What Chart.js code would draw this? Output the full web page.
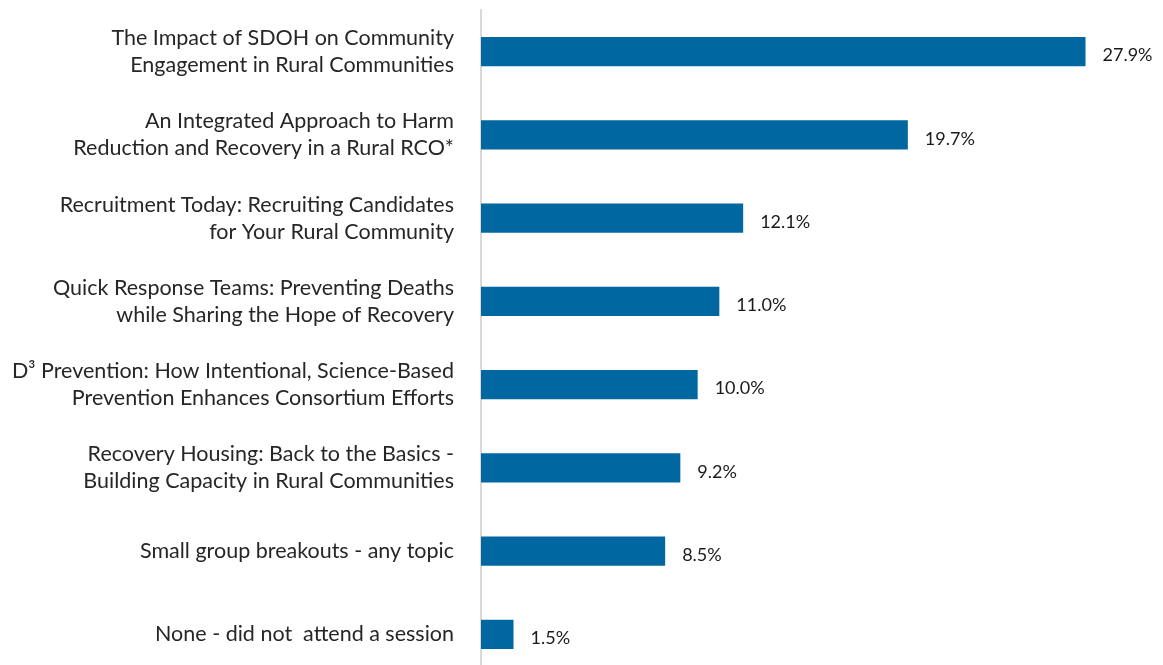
<!DOCTYPE html>
<html lang="en">
<head>
  <meta charset="UTF-8">
  <title>Session Attendance</title>
  <style>
    html, body {
      margin: 0;
      padding: 0;
      background: #ffffff;
      overflow: hidden;
    }
    .wrap {
      width: 1163px;
      height: 680px;
    }
  </style>
</head>
<body>
<div class="wrap">
  <canvas id="sessionChart" width="1163" height="680"></canvas>
</div>

<script src="https://cdn.jsdelivr.net/npm/chart.js"></script>
<script>
  // Session names (each one split over the lines it is shown on)
  const sessions = [
    ['The Impact of SDOH on Community', 'Engagement in Rural Communities'],
    ['An Integrated Approach to Harm', 'Reduction and Recovery in a Rural RCO*'],
    ['Recruitment Today: Recruiting Candidates', 'for Your Rural Community'],
    ['Quick Response Teams: Preventing Deaths', 'while Sharing the Hope of Recovery'],
    ['D³ Prevention: How Intentional, Science-Based', 'Prevention Enhances Consortium Efforts'],
    ['Recovery Housing: Back to the Basics -', 'Building Capacity in Rural Communities'],
    'Small group breakouts - any topic',
    'None - did not  attend a session'
  ];

  // Percent of respondents per session
  const percents = [27.9, 19.7, 12.1, 11.0, 10.0, 9.2, 8.5, 1.5];

  const barColor = '#0067a0';

  // Writes the percentage just to the right of each bar
  const valueLabels = {
    id: 'valueLabels',
    afterDatasetsDraw(chart) {
      const ctx = chart.ctx;
      const meta = chart.getDatasetMeta(0);
      ctx.save();
      ctx.font = '18px Lato, "Liberation Sans", sans-serif';
      ctx.fillStyle = '#1a1a1a';
      ctx.textAlign = 'left';
      ctx.textBaseline = 'middle';
      meta.data.forEach((bar, i) => {
        ctx.fillText(percents[i].toFixed(1) + '%', bar.x + 17, bar.y + 4);
      });
      ctx.restore();
    }
  };

  const ctx = document.getElementById('sessionChart').getContext('2d');

  new Chart(ctx, {
    type: 'bar',
    data: {
      labels: sessions,
      datasets: [{
        data: percents,
        backgroundColor: barColor,
        borderWidth: 0,
        barPercentage: 0.35,
        categoryPercentage: 1
      }]
    },
    options: {
      indexAxis: 'y',
      responsive: false,
      animation: false,
      layout: {
        padding: { top: 10, right: 32, bottom: 4, left: 0 }
      },
      plugins: {
        legend: { display: false },
        tooltip: { enabled: false }
      },
      scales: {
        x: {
          display: false,
          min: 0,
          max: 30
        },
        y: {
          // fixed label column; no extra room above/below for the labels
          afterFit(scale) {
            scale.width = 481;
            scale.paddingTop = 0;
            scale.paddingBottom = 0;
          },
          grid: {
            display: false,
            drawTicks: false
          },
          border: {
            display: true,
            color: '#d9d9d9',
            width: 2
          },
          ticks: {
            padding: 27,
            color: '#262626',
            font: {
              family: 'Lato, "Open Sans", sans-serif',
              size: 21.5,
              lineHeight: 1.26
            }
          }
        }
      }
    },
    plugins: [valueLabels]
  });
</script>
</body>
</html>
